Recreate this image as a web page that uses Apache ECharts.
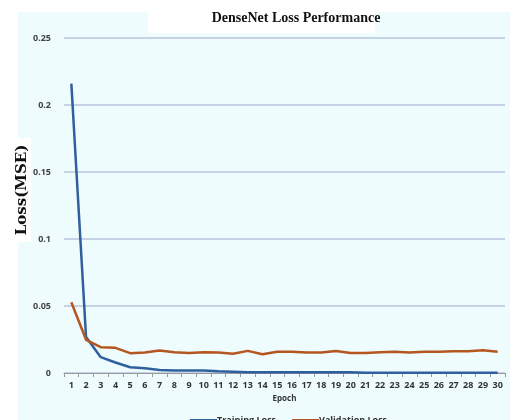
<!DOCTYPE html>
<html><head><meta charset="utf-8">
<script src="https://cdn.jsdelivr.net/npm/echarts@6/dist/echarts.min.js"></script>
<style>html,body{margin:0;padding:0;background:#fff}#c{width:510px;height:420px}</style>
</head><body><div id="c"></div>
<script>
const epochs = ['1','2','3','4','5','6','7','8','9','10','11','12','13','14','15','16','17','18','19','20','21','22','23','24','25','26','27','28','29','30'];
const trainingLoss = [0.216,0.0268,0.0118,0.0078,0.0043,0.0035,0.0023,0.0018,0.0018,0.0018,0.0013,0.001,0.0006,0.0005,0.0005,0.0005,0.0005,0.0005,0.0005,0.0005,0.0002,0.0002,0.0002,0.0002,0.0002,0.0002,0.0002,0.0002,0.0002,0.0002];
const validationLoss = [0.0528,0.0248,0.0193,0.0188,0.0148,0.0153,0.0168,0.0155,0.015,0.0155,0.0153,0.0143,0.0165,0.014,0.0158,0.0158,0.0153,0.0153,0.0165,0.015,0.015,0.0155,0.0158,0.0153,0.0158,0.0158,0.0163,0.0163,0.017,0.0158];
const tickLabels = {0:'0',0.05:'0.05',0.1:'0.1',0.15:'0.15',0.2:'0.2',0.25:'0.25'};

const chart = echarts.init(document.getElementById('c'));
chart.setOption({
  animation:false,
  backgroundColor:'#ffffff',
  graphic:[
    {type:'rect',z:-10,silent:true,shape:{x:18,y:12,width:492,height:408},style:{fill:'#effcfe'}},
    {type:'rect',z:-9,silent:true,shape:{x:148,y:12,width:227,height:21},style:{fill:'#ffffff'}},
    {type:'text',z:10,x:296,y:18,style:{text:'DenseNet Loss Performance',fontFamily:'Liberation Serif',fontWeight:'bold',fontSize:14,fill:'#111',align:'center',verticalAlign:'middle'}},
    {type:'rect',z:-9,silent:true,shape:{x:14,y:138,width:17,height:104},style:{fill:'#ffffff'}},
    {type:'text',z:10,x:22,y:190,rotation:Math.PI/2,style:{text:'Loss(MSE)',font:'bold 15px "DejaVu Serif"',fill:'#111',align:'center',verticalAlign:'middle'}}
  ],
  grid:{left:64,right:5,top:38,bottom:47,containLabel:false},
  legend:{top:411,left:185,itemWidth:27,itemHeight:3,icon:'rect',itemGap:16,
    textStyle:{fontSize:9,color:'#333',fontFamily:'Open Sans',fontWeight:'bold',padding:[0,0,0,-5]},
    data:['Training Loss','Validation Loss']},
  xAxis:{type:'category',data:epochs,boundaryGap:true,
    name:'Epoch',nameLocation:'middle',nameGap:22,
    nameTextStyle:{fontSize:8,fontWeight:'bold',color:'#333',fontFamily:'Open Sans'},
    axisLine:{lineStyle:{color:'#9a9a9a',width:1}},
    axisTick:{show:true,length:4,lineStyle:{color:'#9a9a9a'}},
    axisLabel:{fontSize:9,fontWeight:'bold',color:'#333',margin:8,interval:0,fontFamily:'Open Sans'}},
  yAxis:{type:'value',min:0,max:0.25,interval:0.05,
    axisLine:{show:false},axisTick:{show:false},
    axisLabel:{fontSize:9,fontWeight:'bold',color:'#444',margin:13,fontFamily:'Open Sans',formatter:v=>tickLabels[Math.round(v*100)/100]??String(v)},
    splitLine:{lineStyle:{color:'#b9c5dd',width:1.5}}},
  series:[
    {name:'Training Loss',type:'line',data:trainingLoss,symbol:'none',lineStyle:{color:'#2f5f9e',width:2.5},itemStyle:{color:'#2f5f9e'}},
    {name:'Validation Loss',type:'line',data:validationLoss,symbol:'none',lineStyle:{color:'#b5551f',width:2.5},itemStyle:{color:'#b5551f'}}
  ]
});
</script></body></html>
